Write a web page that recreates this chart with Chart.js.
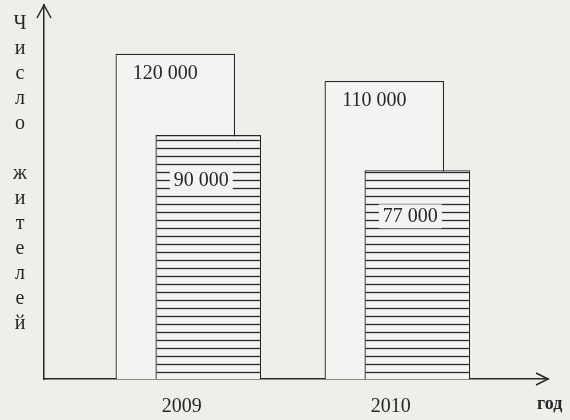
<!DOCTYPE html>
<html>
<head>
<meta charset="utf-8">
<script src="https://cdn.jsdelivr.net/npm/chart.js@4.4.1/dist/chart.umd.min.js"></script>
<style>
  html, body { margin: 0; padding: 0; background: #eeeeeb; }
  #wrap { width: 570px; height: 420px; }
</style>
</head>
<body>
<div id="wrap"><canvas id="chart"></canvas></div>
<script>
// values
const years = [2009, 2010];
const residentsA = [120000, 110000];   // plain bars
const residentsB = [90000, 77000];     // hatched bars
const yTitle = 'Число жителей';
const xTitle = 'год';

const serif = '"Liberation Serif", "DejaVu Serif", serif';
const ink = '#262626';
const barFill = '#f3f3f1';

// "120 000" style
function fmt(v) {
    return String(v).replace(/\B(?=(\d{3})+(?!\d))/g, ' ');
}

function makeHatch() {
    const c = document.createElement('canvas');
    c.width = 8;
    c.height = 8;
    const g = c.getContext('2d');
    g.fillStyle = barFill;
    g.fillRect(0, 0, 8, 8);
    g.strokeStyle = '#2a2a2a';
    g.lineWidth = 1.3;
    g.beginPath();
    g.moveTo(0, 4.5);
    g.lineTo(8, 4.5);
    g.stroke();
    return g.createPattern(c, 'repeat');
}

// hatched bars sit in front of the plain ones, then value labels
const hatchOnTop = {
    id: 'hatchOnTop',
    beforeDatasetDraw(chart, args) {
        if (args.index === 1) return false;
    },
    afterDatasetsDraw(chart) {
        const ctx = chart.ctx;
        const front = chart.getDatasetMeta(1);
        front.data.forEach(bar => bar.draw(ctx));

        ctx.save();
        ctx.font = '20px ' + serif;
        ctx.textAlign = 'center';
        ctx.textBaseline = 'middle';
        ctx.fillStyle = ink;

        chart.getDatasetMeta(0).data.forEach((bar, i) => {
            ctx.fillText(fmt(residentsA[i]), bar.x - 10, bar.y + 20);
        });

        front.data.forEach((bar, i) => {
            const txt = fmt(residentsB[i]);
            const w = ctx.measureText(txt).width;
            const cx = bar.x - 7, cy = bar.y + 46;
            ctx.fillStyle = barFill;
            ctx.fillRect(cx - w / 2 - 4, cy - 12, w + 8, 24);
            ctx.fillStyle = ink;
            ctx.fillText(txt, cx, cy);
        });
        ctx.restore();
    }
};

// arrows on the axes, vertical letters, "год"
const decorations = {
    id: 'decorations',
    afterDraw(chart) {
        const ctx = chart.ctx;
        const a = chart.chartArea;
        ctx.save();
        ctx.strokeStyle = ink;
        ctx.lineWidth = 1.5;
        ctx.beginPath();
        ctx.moveTo(a.left - 7, a.top + 13);
        ctx.lineTo(a.left, a.top);
        ctx.lineTo(a.left + 7, a.top + 13);
        ctx.moveTo(a.right - 12, a.bottom - 6);
        ctx.lineTo(a.right, a.bottom);
        ctx.lineTo(a.right - 12, a.bottom + 6);
        ctx.stroke();

        ctx.fillStyle = ink;
        ctx.font = '20px ' + serif;
        ctx.textAlign = 'center';
        ctx.textBaseline = 'alphabetic';
        Array.from(yTitle).forEach((ch, i) => {
            if (ch !== ' ') ctx.fillText(ch, 20, 29 + i * 25);
        });

        ctx.textAlign = 'left';
        ctx.textBaseline = 'middle';
        ctx.font = 'bold 18px ' + serif;
        ctx.fillText(xTitle, 537, 404);
        ctx.restore();
    }
};

new Chart(document.getElementById('chart'), {
    type: 'bar',
    data: {
        datasets: [
            {
                data: years.map((y, i) => ({ x: y, y: residentsA[i] })),
                backgroundColor: barFill,
                borderColor: ink,
                borderWidth: 1.3,
                categoryPercentage: 0.316,
                barPercentage: 3.62
            },
            {
                data: years.map((y, i) => ({ x: y, y: residentsB[i] })),
                backgroundColor: makeHatch(),
                borderColor: ink,
                borderWidth: 1.3,
                categoryPercentage: 0.316,
                barPercentage: 3.2
            }
        ]
    },
    options: {
        responsive: true,
        maintainAspectRatio: false,
        animation: false,
        layout: { padding: { left: 44, right: 22, top: 5, bottom: 0 } },
        plugins: {
            legend: { display: false },
            tooltip: { enabled: false }
        },
        scales: {
            x: {
                type: 'linear',
                offset: false,
                min: 2008.293,
                max: 2010.704,
                z: 1,
                grid: { display: false, drawTicks: false },
                border: { display: true, color: ink, width: 1.5 },
                afterBuildTicks: s => { s.ticks = years.map(v => ({ value: v })); },
                afterFit: s => { s.height = 41; },
                ticks: {
                    padding: 16,
                    labelOffset: -10,
                    color: ink,
                    font: { family: serif, size: 20 },
                    callback: v => String(v)
                }
            },
            y: {
                min: 0,
                max: 138000,
                grid: { display: false, drawTicks: false },
                border: { display: true, color: ink, width: 1.5 },
                ticks: { display: false },
                afterFit: s => { s.width = 0; }
            }
        }
    },
    plugins: [hatchOnTop, decorations]
});
</script>
</body>
</html>
